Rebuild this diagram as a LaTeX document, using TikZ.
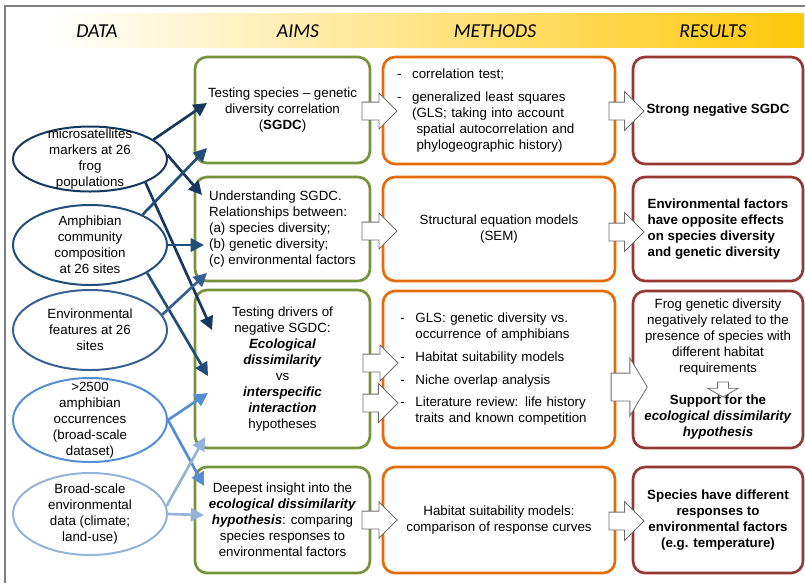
\documentclass[tikz,border=0pt]{standalone}
\usepackage{fontspec}
\setmainfont{Liberation Sans}
\newfontfamily\headfont{Carlito}
\usetikzlibrary{shapes.geometric,shapes.arrows,arrows.meta}

\definecolor{navyA}{HTML}{17375E}
\definecolor{navyB}{HTML}{1F4E79}
\definecolor{blueC}{HTML}{376092}
\definecolor{blueD}{HTML}{558ED5}
\definecolor{blueE}{HTML}{95B3D7}
\definecolor{aimgreen}{HTML}{77933C}
\definecolor{methorange}{HTML}{E46C0A}
\definecolor{resred}{HTML}{953735}
\definecolor{framegray}{HTML}{7F7F7F}
\definecolor{arrowgray}{HTML}{6E6E6E}
\definecolor{headgold}{HTML}{FFC80A}
\definecolor{headpeach}{HTML}{FBDCA0}

\def\bi#1{\textbf{\textit{#1}}}

\tikzset{
dataell/.style={ellipse, draw, line width=1.5pt, minimum width=115.5pt, inner sep=0pt},
datatxt/.style={align=center, font=\fontsize{10}{12}\selectfont},
box/.style={rectangle, rounded corners=9pt, line width=2pt, font=\fontsize{10}{12}\selectfont, inner sep=0pt, align=center},
aim/.style={box, draw=aimgreen, minimum width=131.25pt},
meth/.style={box, draw=methorange, minimum width=174pt},
res/.style={box, draw=resred, minimum width=127.5pt},
feed/.style={line width=2pt, -{Triangle[length=10pt,width=10pt]}},
blockarrow/.style={single arrow, draw=arrowgray, fill=white, line width=0.6pt, inner sep=6.375pt, minimum height=26.25pt, minimum width=0pt, single arrow head extend=6.75pt},
head/.style={font=\headfont\itshape\fontsize{14.8}{17}\selectfont}
}

\begin{document}
\begin{tikzpicture}[x=0.75pt,y=-0.75pt]
\useasboundingbox (0,0) rectangle (805,583);

\draw [framegray, line width=0.8pt] (5,583)--(5,6)--(805,6);

\shade [left color=white, middle color=headpeach, right color=headgold] (50,13) rectangle (804,47);
\node [head] (hdata) at (97,31) {DATA};
\node [head] (haims) at (298,31) {AIMS};
\node [head] (hmeth) at (495,31) {METHODS};
\node [head] (hres) at (713,31) {RESULTS};

\node [aim, minimum height=79.5pt] (aim1) at (282.5,110) {Testing species -- genetic\\diversity correlation\\(\textbf{SGDC})};
\node [aim, minimum height=78pt, align=left] (aim2) at (282.5,229) {Understanding SGDC.\\Relationships between:\\(a) species diversity;\\(b) genetic diversity;\\(c) environmental factors};
\node [aim, minimum height=118.5pt] (aim3) at (282.5,369) {Testing drivers of\\negative SGDC:\\\bi{Ecological}\\\bi{dissimilarity}\\vs\\\bi{interspecific}\\\bi{interaction}\\hypotheses};
\node [aim, minimum height=79.5pt] (aim4) at (282.5,520) {Deepest insight into the\\\bi{ecological dissimilarity}\\\bi{hypothesis}: comparing\\species responses to\\environmental factors};

\node [meth, minimum height=80.25pt, text width=153pt, align=left] (meth1) at (499,110.5) {\begin{tabular}{@{}l@{\hspace{8pt}}l@{}}
- & correlation test;\\[5pt]
- & generalized least squares\\
 & (GLS; taking into account\\
 & \ spatial autocorrelation and\\
 & \ phylogeographic history)
\end{tabular}};
\node [meth, minimum height=78pt] (meth2) at (499,229) {Structural equation models\\(SEM)};
\node [meth, minimum height=117.75pt, text width=148pt, align=left] (meth3) at (499,369.5) {\begin{tabular}{@{}l@{\hspace{8pt}}l@{}}
- & GLS: genetic diversity vs.\\
 & occurrence of amphibians\\[5pt]
- & Habitat suitability models\\[5pt]
- & Niche overlap analysis\\[5pt]
- & Literature review: life history\\
 & traits and known competition
\end{tabular}};
\node [meth, minimum height=79.5pt] (meth4) at (499,520) {Habitat suitability models:\\comparison of response curves};

\node [res, minimum height=80.25pt] (res1) at (718,110.5) {\textbf{Strong negative SGDC}};
\node [res, minimum height=78pt, align=left] (res2) at (718,229) {\textbf{Environmental factors}\\\textbf{have opposite effects}\\\textbf{on species diversity}\\\textbf{and genetic diversity}};
\node [res, minimum height=117.75pt] (res3) at (718,369.5) {Frog genetic diversity\\negatively related to the\\presence of species with\\different habitat\\requirements\\[12pt]\textbf{Support for the}\\\bi{ecological dissimilarity}\\\bi{hypothesis}};
\node [res, minimum height=79.5pt] (res4) at (718,520) {\textbf{Species have different}\\\textbf{responses to}\\\textbf{environmental factors}\\\textbf{(e.g. temperature)}};
\node [blockarrow, shape border rotate=270, inner sep=3.75pt, minimum height=11.25pt, single arrow head extend=7.5pt, single arrow tip angle=120] (down) at (723,388) {};

\node [dataell, navyA, minimum height=48.75pt] (e1) at (90,159) {};
\node [datatxt] (e1t) at (e1) {microsatellites\\markers at 26\\frog\\populations};
\node [dataell, navyB, minimum height=60pt] (e2) at (90,245) {};
\node [datatxt] (e2t) at (e2) {Amphibian\\community\\composition\\at 26 sites};
\node [dataell, blueC, minimum height=60pt] (e3) at (90,330) {};
\node [datatxt] (e3t) at (e3) {Environmental\\features at 26\\sites};
\node [dataell, blueD, minimum height=63pt] (e4) at (90,420) {};
\node [datatxt] (e4t) at (e4) {>2500\\amphibian\\occurrences\\(broad-scale\\dataset)};
\node [dataell, blueE, minimum height=61.5pt] (e5) at (90,514) {};
\node [datatxt] (e5t) at (e5) {Broad-scale\\environmental\\data (climate;\\land-use)};

\coordinate (ta1) at (207,103);
\coordinate (ta2) at (202,195);
\coordinate (ta3) at (212,330);
\coordinate (tb1) at (207,148);
\coordinate (tb2) at (204,245);
\coordinate (tb3) at (208,376);
\coordinate (tc1) at (207,273);
\coordinate (td1) at (208,393);
\coordinate (td2) at (204,486);
\coordinate (tf1) at (205,437);
\coordinate (tf2) at (204,515);

\draw [feed, navyA] (e1.17)--(ta1);
\draw [feed, navyA] (e1.3)--(ta2);
\draw [feed, navyA] (e1.-23)--(ta3);
\draw [feed, navyB] (e2.30)--(tb1);
\draw [feed, navyB] (e2.east)--(tb2);
\draw [feed, navyB] (e2.-26)--(tb3);
\draw [feed, blueC] (e3.12)--(tc1);
\draw [feed, blueD] (e4.east)--(td1);
\draw [feed, blueD] (e4.east)--(td2);
\draw [feed, blueE] (e5.6)--(tf1);
\draw [feed, blueE] (e5.east)--(tf2);

\node [blockarrow] (am1) at (375,111) {};
\node [blockarrow] (am2) at (375,231) {};
\node [blockarrow] (am3) at (376,363) {};
\node [blockarrow, single arrow head extend=8pt] (am3b) at (376,403) {};
\node [blockarrow] (am4) at (375,520) {};

\node [blockarrow, single arrow head extend=7.875pt] (mr1) at (622,111) {};
\node [blockarrow, single arrow head extend=7.875pt] (mr2) at (622,232) {};
\node [blockarrow, inner sep=10.125pt, single arrow head extend=11.25pt, single arrow tip angle=118] (mr3) at (625,387) {};
\node [blockarrow, single arrow head extend=7.875pt] (mr4) at (622,521) {};
\end{tikzpicture}
\end{document}
